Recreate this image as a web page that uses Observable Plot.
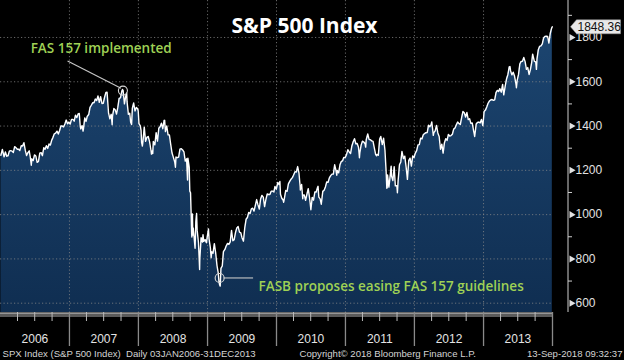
<!DOCTYPE html>
<html>
<head>
<meta charset="utf-8">
<script src="https://cdn.jsdelivr.net/npm/d3@7"></script>
<script src="https://cdn.jsdelivr.net/npm/@observablehq/plot@0.6"></script>
<style>
  html, body { margin: 0; padding: 0; background: #000; }
  #chart svg { display: block; }
</style>
</head>
<body>
<div id="chart"></div>
<script>
// ---- data: approximate S&P 500 closes ----
const spx2006 = [["01-03",1268],["01-11",1294],["01-20",1261],["01-27",1283],["02-03",1264],["02-10",1266],["02-17",1287],["02-24",1289],["03-03",1287],["03-10",1281],["03-17",1307],["03-24",1302],["03-31",1295],["04-07",1295],["04-13",1289],["04-21",1311],["04-28",1310],["05-05",1325],["05-12",1291],["05-19",1267],["05-26",1280],["06-02",1288],["06-08",1257],["06-13",1223],["06-16",1252],["06-23",1244],["06-30",1270],["07-07",1265],["07-14",1236],["07-21",1240],["07-28",1278],["08-04",1280],["08-11",1266],["08-18",1302],["08-25",1295],["09-01",1311],["09-08",1299],["09-15",1319],["09-22",1314],["09-29",1336],["10-06",1349],["10-13",1365],["10-20",1368],["10-27",1377],["11-03",1364],["11-10",1380],["11-17",1401],["11-24",1400],["12-01",1396],["12-08",1409],["12-15",1427],["12-22",1410],["12-29",1418]];
const spx2007 = [["01-05",1409],["01-12",1430],["01-19",1430],["01-26",1422],["02-02",1449],["02-09",1438],["02-16",1455],["02-22",1457],["02-27",1399],["03-02",1387],["03-09",1402],["03-14",1377],["03-16",1386],["03-23",1437],["03-30",1421],["04-05",1443],["04-13",1452],["04-20",1484],["04-27",1494],["05-04",1505],["05-11",1505],["05-18",1522],["05-25",1515],["06-01",1536],["06-08",1507],["06-15",1533],["06-22",1502],["06-29",1503],["07-06",1530],["07-13",1552],["07-19",1553],["07-27",1458],["08-03",1433],["08-10",1453],["08-15",1406],["08-17",1445],["08-24",1479],["08-31",1474],["09-07",1454],["09-14",1484],["09-21",1525],["09-28",1527],["10-05",1557],["10-09",1565],["10-12",1561],["10-19",1500],["10-26",1535],["10-31",1549],["11-02",1509],["11-09",1453],["11-16",1458],["11-21",1417],["11-26",1407],["11-30",1481],["12-07",1504],["12-14",1468],["12-21",1484],["12-28",1478],["12-31",1468]];
const spx2008 = [["01-04",1411],["01-11",1401],["01-15",1380],["01-18",1325],["01-22",1310],["01-25",1330],["02-01",1395],["02-08",1331],["02-15",1349],["02-22",1353],["02-29",1330],["03-07",1293],["03-10",1273],["03-14",1288],["03-17",1276],["03-20",1330],["03-28",1315],["04-04",1370],["04-11",1332],["04-18",1390],["04-25",1397],["05-02",1413],["05-09",1388],["05-16",1425],["05-19",1426],["05-23",1375],["05-30",1400],["06-06",1360],["06-13",1360],["06-20",1317],["06-27",1278],["07-03",1262],["07-11",1239],["07-15",1214],["07-18",1260],["07-25",1257],["08-01",1260],["08-08",1296],["08-15",1298],["08-22",1292],["08-29",1283],["09-05",1242],["09-12",1252],["09-15",1193],["09-17",1156],["09-19",1255],["09-26",1213],["09-29",1106],["10-03",1099],["10-09",910],["10-10",899],["10-13",1003],["10-15",908],["10-17",940],["10-24",877],["10-27",848],["10-31",968],["11-04",1005],["11-07",930],["11-14",873],["11-20",752],["11-21",800],["11-28",896],["12-05",876],["12-08",909],["12-12",879],["12-19",887],["12-26",873],["12-31",903]];
const spx2009 = [["01-06",935],["01-09",890],["01-16",850],["01-20",805],["01-23",832],["01-30",826],["02-06",869],["02-13",827],["02-20",770],["02-27",735],["03-02",700],["03-06",683],["03-09",677],["03-13",757],["03-20",768],["03-26",833],["04-03",843],["04-09",857],["04-17",870],["04-24",866],["05-01",877],["05-08",929],["05-15",882],["05-22",887],["05-29",919],["06-05",940],["06-12",946],["06-19",921],["06-26",918],["07-02",897],["07-10",880],["07-17",940],["07-24",979],["07-31",987],["08-07",1010],["08-14",1005],["08-21",1026],["08-28",1029],["09-04",1016],["09-11",1042],["09-18",1068],["09-25",1044],["10-02",1025],["10-09",1071],["10-16",1087],["10-23",1079],["10-30",1036],["11-06",1069],["11-13",1093],["11-20",1091],["11-27",1091],["12-04",1106],["12-11",1106],["12-18",1102],["12-24",1127],["12-31",1115]];
const spx2010 = [["01-08",1145],["01-15",1136],["01-19",1150],["01-22",1092],["01-29",1074],["02-05",1066],["02-08",1056],["02-12",1075],["02-19",1109],["02-26",1105],["03-05",1139],["03-12",1150],["03-19",1160],["03-26",1167],["04-01",1178],["04-09",1194],["04-16",1192],["04-23",1217],["04-30",1187],["05-06",1128],["05-07",1111],["05-14",1136],["05-20",1072],["05-21",1088],["05-28",1089],["06-04",1065],["06-11",1092],["06-18",1117],["06-25",1076],["07-02",1022],["07-09",1078],["07-16",1065],["07-23",1102],["07-30",1102],["08-06",1122],["08-09",1128],["08-13",1079],["08-20",1071],["08-26",1047],["09-03",1105],["09-10",1110],["09-17",1125],["09-24",1148],["10-01",1146],["10-08",1166],["10-15",1176],["10-22",1183],["10-29",1183],["11-05",1225],["11-12",1199],["11-16",1178],["11-19",1199],["11-26",1189],["12-03",1225],["12-10",1240],["12-17",1243],["12-23",1258],["12-31",1258]];
const spx2011 = [["01-07",1272],["01-14",1293],["01-21",1283],["01-28",1276],["02-04",1310],["02-11",1329],["02-18",1343],["02-25",1320],["03-04",1321],["03-11",1304],["03-16",1257],["03-18",1279],["03-25",1314],["04-01",1332],["04-08",1328],["04-15",1320],["04-18",1305],["04-21",1338],["04-29",1364],["05-06",1340],["05-13",1338],["05-20",1333],["05-27",1331],["06-03",1300],["06-10",1271],["06-15",1266],["06-17",1272],["06-24",1268],["07-01",1340],["07-07",1353],["07-15",1316],["07-22",1345],["07-29",1292],["08-04",1200],["08-08",1119],["08-09",1172],["08-10",1121],["08-12",1179],["08-19",1124],["08-26",1177],["08-31",1219],["09-02",1174],["09-09",1154],["09-16",1216],["09-22",1130],["09-30",1131],["10-03",1099],["10-07",1155],["10-14",1225],["10-21",1238],["10-27",1285],["11-04",1253],["11-11",1264],["11-18",1216],["11-25",1159],["12-02",1244],["12-09",1255],["12-16",1219],["12-23",1265],["12-30",1258]];
const spx2012 = [["01-06",1278],["01-13",1289],["01-20",1315],["01-27",1316],["02-03",1345],["02-10",1342],["02-17",1361],["02-24",1366],["03-02",1370],["03-09",1371],["03-16",1404],["03-23",1397],["03-30",1408],["04-02",1419],["04-10",1358],["04-13",1370],["04-20",1378],["04-27",1403],["05-04",1369],["05-11",1353],["05-18",1295],["05-25",1318],["06-01",1278],["06-08",1325],["06-15",1343],["06-22",1335],["06-29",1362],["07-06",1355],["07-13",1357],["07-20",1363],["07-27",1386],["08-03",1391],["08-10",1406],["08-17",1418],["08-24",1411],["08-31",1407],["09-07",1438],["09-14",1466],["09-21",1460],["09-28",1441],["10-05",1461],["10-12",1429],["10-19",1433],["10-26",1412],["11-02",1414],["11-09",1380],["11-15",1353],["11-23",1409],["11-30",1416],["12-07",1418],["12-14",1414],["12-21",1430],["12-28",1402],["12-31",1426]];
const spx2013 = [["01-04",1466],["01-11",1472],["01-18",1486],["01-25",1503],["02-01",1513],["02-08",1518],["02-15",1520],["02-22",1516],["03-01",1518],["03-08",1551],["03-15",1561],["03-22",1556],["03-28",1569],["04-05",1553],["04-12",1588],["04-18",1541],["04-26",1582],["05-03",1614],["05-10",1633],["05-17",1667],["05-21",1669],["05-24",1650],["05-31",1631],["06-07",1643],["06-14",1626],["06-21",1593],["06-24",1573],["06-28",1606],["07-05",1632],["07-12",1680],["07-19",1692],["07-26",1692],["08-02",1710],["08-09",1691],["08-16",1656],["08-23",1664],["08-30",1633],["09-06",1655],["09-13",1688],["09-18",1725],["09-27",1692],["10-04",1690],["10-08",1656],["10-11",1703],["10-18",1745],["10-25",1760],["11-01",1762],["11-08",1771],["11-15",1798],["11-22",1805],["11-29",1806],["12-06",1805],["12-13",1775],["12-20",1818],["12-27",1841],["12-31",1848.36]];

const years = [2006, 2007, 2008, 2009, 2010, 2011, 2012, 2013];
const yTickValues = [600, 800, 1000, 1200, 1400, 1600, 1800];
const yMinorValues = [700, 900, 1100, 1300, 1500, 1700, 1900];
const lastValue = 1848.36;
const lastLabel = "1848.36";

const titleText = "S&P 500 Index";
const footerLeft = "SPX Index (S&P 500 Index)  Daily 03JAN2006-31DEC2013";
const footerMid = "Copyright\u00A9 2018 Bloomberg Finance L.P.";
const footerRight = "13-Sep-2018 09:32:37";

// annotations (data space)
const notePoints = [
  {date: "2007-10-11", value: 1560},
  {date: "2009-03-06", value: 714}
];
const noteLinks = [
  {d1: "2006-12-22", v1: 1694, d2: "2007-10-01", v2: 1571},
  {d1: "2009-03-27", v1: 714, d2: "2009-08-30", v2: 714}
];
const noteTop = [{date: "2007-06-18", value: 1750, text: "FAS 157 implemented"}];
const noteBottom = [{date: "2009-09-28", value: 674, text: "FASB proposes easing FAS 157 guidelines"}];

// ---- build ----
const yearArrays = [spx2006, spx2007, spx2008, spx2009, spx2010, spx2011, spx2012, spx2013];
const data = yearArrays.flatMap((arr, i) => arr.map(([md, v]) => ({date: new Date(`${years[i]}-${md}`), value: v})));

const xDomain = [new Date("2006-01-01"), new Date("2014-01-01")];
const yDomain = [558, 1967];
const yearTicks = d3.utcYear.range(new Date("2007-01-01"), new Date("2014-01-02"));
const quarterTicks = d3.utcMonth.every(3).range(xDomain[0], xDomain[1]).filter(d => d.getUTCMonth() !== 0);
const yearMid = years.map(y => ({date: new Date(`${y}-07-02`), label: String(y)}));

const labelBox = {
  draw(ctx) {
    ctx.moveTo(0, 0);
    ctx.lineTo(6, -7);
    ctx.lineTo(50, -7);
    ctx.lineTo(50, 7);
    ctx.lineTo(6, 7);
    ctx.closePath();
  }
};

const green = "#9fd155";
const gridStyle = {stroke: "#8a8a8a", strokeOpacity: 0.75, strokeDasharray: "1.2,2.3", strokeWidth: 1};
const noteFont = {fill: green, fontSize: 13.5, fontWeight: 600, fontFamily: "Open Sans, sans-serif"};
const footFont = {fill: "#d4d4d4", fontSize: 9.6, lineAnchor: "middle", dy: 41};

const chart = Plot.plot({
  width: 624,
  height: 360,
  marginTop: 0,
  marginLeft: 0,
  marginRight: 72,
  marginBottom: 48,
  style: {background: "#000", color: "#dcdcdc", fontFamily: "Liberation Sans, Arial, sans-serif", fontSize: "12px"},
  x: {type: "utc", domain: xDomain},
  y: {domain: yDomain},
  marks: [
    Plot.areaY(data, {x: "date", y: "value", fill: "url(#spxGrad)", clip: true}),
    Plot.ruleY(yTickValues, gridStyle),
    Plot.ruleX(yearTicks.slice(0, -1), gridStyle),
    Plot.lineY(data, {x: "date", y: "value", stroke: "#ffffff", strokeWidth: 1.4, strokeLinejoin: "round"}),
    // annotations
    Plot.link(noteLinks, {x1: d => new Date(d.d1), y1: "v1", x2: d => new Date(d.d2), y2: "v2", stroke: "#c8c8c8", strokeWidth: 1.1}),
    Plot.dot(notePoints, {x: d => new Date(d.date), y: "value", r: 4.5, stroke: "#d8d8d8", strokeWidth: 1.1, fill: "none"}),
    Plot.text(noteTop, {x: d => new Date(d.date), y: "value", text: "text", textAnchor: "middle", ...noteFont}),
    Plot.text(noteBottom, {x: d => new Date(d.date), y: "value", text: "text", textAnchor: "start", ...noteFont}),
    // title
    Plot.text([titleText], {frameAnchor: "top", lineAnchor: "middle", dx: 28, dy: 26, fill: "#fff", fontSize: 21, fontWeight: "bold", fontFamily: "Open Sans, sans-serif"}),
    // x axis band
    Plot.ruleY([yDomain[0]], {stroke: "#5a5a5a", strokeWidth: 4, dy: 2.5}),
    Plot.ruleY([yDomain[0]], {stroke: "#d0d0d0", strokeWidth: 1, dy: 0.5}),
    Plot.axisX({ticks: quarterTicks, tickSize: 9, tickFormat: () => "", stroke: "#bbbbbb"}),
    Plot.axisX({ticks: yearTicks, tickSize: 34, tickFormat: () => "", stroke: "#8a8a8a", strokeWidth: 1.3}),
    Plot.text(yearMid, {x: "date", text: "label", frameAnchor: "bottom", lineAnchor: "middle", dy: 27, fill: "#e4e4e4", fontSize: 12}),
    // footer
    Plot.text([footerLeft], {frameAnchor: "bottom-left", dx: 2, textAnchor: "start", ...footFont}),
    Plot.text([footerMid], {frameAnchor: "bottom-left", dx: 299, textAnchor: "start", ...footFont}),
    Plot.text([footerRight], {frameAnchor: "bottom-right", dx: 70, textAnchor: "end", ...footFont}),
    // y axis on the right
    Plot.ruleX([xDomain[1]], {dx: 15.5, stroke: "#cfcfcf", strokeWidth: 1}),
    Plot.axisY({anchor: "right", ticks: yMinorValues, tickSize: 4, dx: 15, tickFormat: () => "", stroke: "#cfcfcf"}),
    Plot.axisY({anchor: "right", ticks: yTickValues, tickSize: 0, dx: 15, tickPadding: 8, tickFormat: d => String(d), fill: "#e2e2e2", fontSize: 12}),
    Plot.dot(yTickValues, {x: () => xDomain[1], y: d => d, dx: 19, symbol: "triangle", rotate: 90, r: 2.6, fill: "#e2e2e2", stroke: "none"}),
    // last value label
    Plot.dot([lastValue], {x: () => xDomain[1], y: d => d, dx: 18, symbol: labelBox, fill: "#e8e8e8", stroke: "#999", strokeWidth: 0.5}),
    Plot.text([lastLabel], {x: () => xDomain[1], y: () => lastValue, dx: 25, textAnchor: "start", fill: "#111", fontSize: 12})
  ]
});

// gradient for the area fill
const ns = "http://www.w3.org/2000/svg";
const defs = document.createElementNS(ns, "defs");
defs.innerHTML = `<linearGradient id="spxGrad" x1="0" y1="0" x2="0" y2="1">
  <stop offset="0%" stop-color="#1c4570"/>
  <stop offset="100%" stop-color="#0a2444"/>
</linearGradient>`;
chart.insertBefore(defs, chart.firstChild);

document.getElementById("chart").appendChild(chart);
</script>
</body>
</html>
